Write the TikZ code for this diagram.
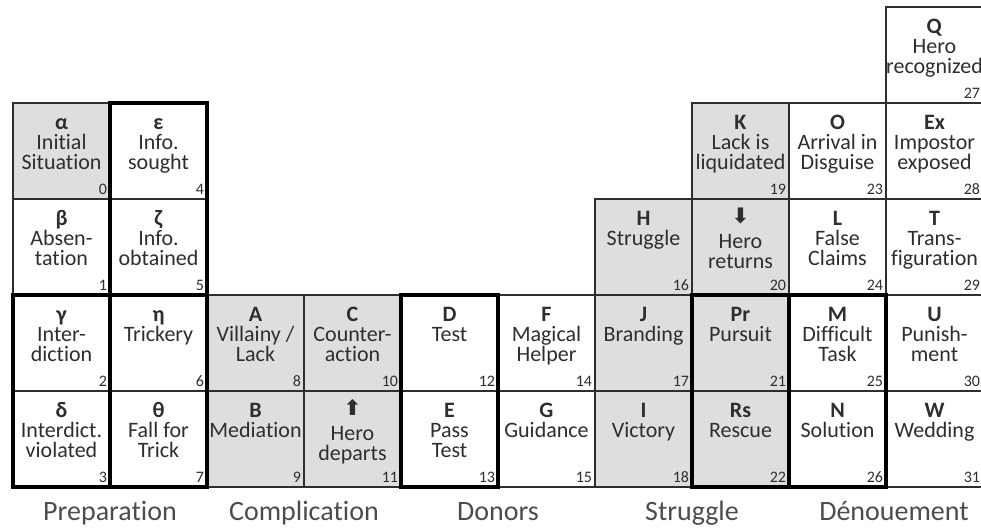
\documentclass[tikz,border=0pt]{standalone}
\usepackage{fontspec}
\setmainfont{Carlito}[Ligatures={NoCommon}]
\newfontfamily\arrowfont{DejaVu Sans}
\usetikzlibrary{positioning}
\definecolor{cellgray}{gray}{0.87}
\definecolor{inkgray}{gray}{0.18}
\tikzset{
  cell/.style={draw=inkgray, line width=0.9pt, minimum width=72.75pt, minimum height=72pt, inner sep=0pt, outer sep=0pt},
  celltext/.style={align=center, inner sep=0pt, text=inkgray, font=\fontsize{16.5}{15}\selectfont},
  celltag/.style={inner sep=0pt, text=inkgray, font=\fontsize{12}{12}\selectfont},
  phase/.style={inner sep=0pt, text=black!70, font=\fontsize{21}{24}\selectfont},
  groupbox/.style={draw=black, line width=3.6pt}
}

\begin{document}
\begin{tikzpicture}[x=0.75pt, y=-0.75pt]
  \useasboundingbox (0,0) rectangle (981,531);
  % cells: column / row / name / symbol / text / number / fill
  \foreach \col/\row/\nm/\sym/\txt/\idx/\fil in {
      0/1/alpha/α/{Initial\\Situation}/0/cellgray,
      0/2/beta/β/{Absen-\\tation}/1/white,
      0/3/gamma/γ/{Inter-\\diction}/2/white,
      0/4/delta/δ/{Interdict.\\violated}/3/white,
      1/1/epsilon/ε/{Info.\\sought}/4/white,
      1/2/zeta/ζ/{Info.\\obtained}/5/white,
      1/3/eta/η/{Trickery}/6/white,
      1/4/theta/θ/{Fall for\\Trick}/7/white,
      2/3/A/A/{Villainy /\\Lack}/8/cellgray,
      2/4/B/B/{Mediation}/9/cellgray,
      3/3/C/C/{Counter-\\action}/10/cellgray,
      3/4/depart/{\smash{\raisebox{1.5pt}{\arrowfont\fontsize{16}{15}\selectfont ⬆}}\rule[-6pt]{0pt}{0pt}}/{Hero\\departs}/11/cellgray,
      4/3/D/D/{Test}/12/white,
      4/4/E/E/{Pass\\Test}/13/white,
      5/3/F/F/{Magical\\Helper}/14/white,
      5/4/G/G/{Guidance}/15/white,
      6/2/H/H/{Struggle}/16/cellgray,
      6/3/J/J/{Branding}/17/cellgray,
      6/4/I/I/{Victory}/18/cellgray,
      7/1/K/K/{Lack is\\liquidated}/19/cellgray,
      7/2/return/{\smash{\raisebox{1.5pt}{\arrowfont\fontsize{16}{15}\selectfont ⬇}}\rule[-6pt]{0pt}{0pt}}/{Hero\\returns}/20/cellgray,
      7/3/Pr/Pr/{Pursuit}/21/cellgray,
      7/4/Rs/Rs/{Rescue}/22/cellgray,
      8/1/O/O/{Arrival in\\Disguise}/23/white,
      8/2/L/L/{False\\Claims}/24/white,
      8/3/M/M/{Difficult\\Task}/25/white,
      8/4/N/N/{Solution}/26/white,
      9/0/Q/Q/{Hero\\recognized}/27/white,
      9/1/Ex/Ex/{Impostor\\exposed}/28/white,
      9/2/T/T/{Trans-\\figuration}/29/white,
      9/3/U/U/{Punish-\\ment}/30/white,
      9/4/W/W/{Wedding}/31/white}{
    \node[cell, fill=\fil] (\nm) at ({61.5+97*\col},{55+96*\row}) {};
    \node[celltext, below=8pt of \nm.north] (\nm-t) {\rule{0pt}{11.5pt}\textbf{\sym}\\\txt};
    \node[celltag, above left=3pt and 2pt of \nm.south east] (\nm-n) {\idx};
  }
  % heavy frames
  \draw[groupbox] (epsilon.north west) rectangle (zeta.south east);
  \draw[groupbox] (gamma.north west) rectangle (delta.south east);
  \draw[groupbox] (eta.north west) rectangle (theta.south east);
  \draw[groupbox] (D.north west) rectangle (E.south east);
  \draw[groupbox] (Pr.north west) rectangle (Rs.south east);
  \draw[groupbox] (M.north west) rectangle (N.south east);
  % phases
  \node[phase, below=25pt of delta.south east, anchor=base] (prep) {Preparation};
  \node[phase, below=25pt of B.south east, anchor=base] (compl) {Complication};
  \node[phase, below=25pt of E.south east, anchor=base] (donors) {Donors};
  \node[phase, below=25pt of I.south east, anchor=base] (strug) {Struggle};
  \node[phase, below=25pt of N.south east, anchor=base, xshift=6pt] (denou) {Dénouement};
\end{tikzpicture}
\end{document}
